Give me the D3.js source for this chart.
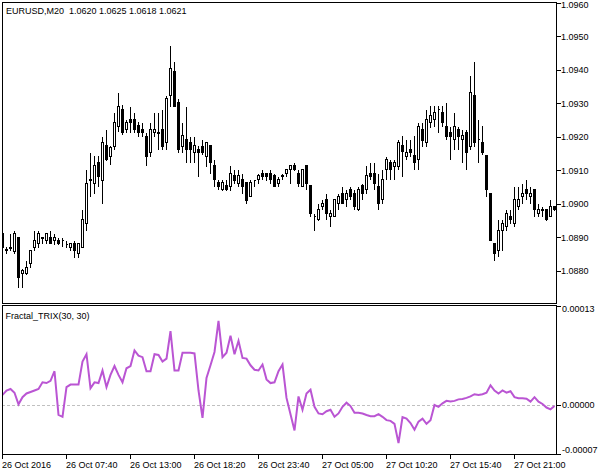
<!DOCTYPE html>
<html><head><meta charset="utf-8">
<script src="https://cdn.jsdelivr.net/npm/d3@7"></script>
<style>
html,body{margin:0;padding:0;background:#fff;}
svg{display:block;}
text{font-family:"Liberation Sans",Arial,sans-serif;font-size:9px;fill:#000;}
</style></head><body>
<svg id="c" width="604" height="475"></svg>
<script>
// ---------------- DATA ----------------
const symbolTitle = "EURUSD,M20  1.0620 1.0625 1.0618 1.0621";
const indicatorTitle = "Fractal_TRIX(30, 30)";
const startTime = new Date(2016, 9, 26, 2, 20);
const barMinutes = 20;

const open = [
1.08914,1.08863,1.08872,1.08858,1.08901,1.08793,1.08793,1.08823,1.08871,1.08883,
1.08901,1.08891,1.08901,1.08891,1.08893,1.08893,1.08881,1.08871,1.08883,1.08853,
1.08871,1.08943,1.09073,1.09063,1.09123,1.09071,1.09175,1.09143,1.09173,1.09233,
1.09283,1.09223,1.09253,1.09253,1.09235,1.09223,1.09203,1.09153,1.09213,1.09213,
1.09223,1.09183,1.09323,1.09395,1.09303,1.09173,1.09193,1.09183,1.09154,1.09163,
1.09172,1.09143,1.09175,1.09115,1.09065,1.09043,1.09055,1.09053,1.09085,1.09063,
1.09073,1.09065,1.09023,1.09071,1.09073,1.09093,1.09093,1.09093,1.09085,1.09063,
1.09085,1.09093,1.09103,1.09115,1.09093,1.09053,1.09115,1.09055,1.08963,1.08953,
1.08993,1.09013,1.08963,1.08963,1.09003,1.09033,1.09013,1.09043,1.09033,1.08983,
1.09055,1.09043,1.09093,1.09093,1.09053,1.09013,1.09103,1.09123,1.09113,1.09113,
1.09175,1.09143,1.09163,1.09145,1.09133,1.09223,1.09183,1.09243,1.09253,1.09283,
1.09273,1.09233,1.09213,1.09193,1.09223,1.09193,1.09213,1.09173,1.09325,1.09193,
1.09183,1.09145,1.09033,1.08883,1.08863,1.08923,1.08933,1.08963,1.08943,1.08993,
1.09023,1.09043,1.09023,1.09043,1.08973,1.08983,1.08983,1.08963,1.08993];

const high = [
1.08920,1.08873,1.08913,1.08923,1.08905,1.08809,1.08833,1.08863,1.08923,1.08923,
1.08902,1.08914,1.08923,1.08913,1.08901,1.08901,1.08891,1.08884,1.08893,1.08884,
1.08983,1.09103,1.09153,1.09145,1.09145,1.09203,1.09223,1.09175,1.09273,1.09333,
1.09298,1.09253,1.09293,1.09273,1.09248,1.09243,1.09213,1.09243,1.09273,1.09273,
1.09283,1.09325,1.09475,1.09425,1.09315,1.09243,1.09293,1.09203,1.09203,1.09175,
1.09193,1.09187,1.09178,1.09133,1.09073,1.09073,1.09073,1.09115,1.09103,1.09103,
1.09093,1.09065,1.09073,1.09071,1.09093,1.09103,1.09094,1.09103,1.09093,1.09083,
1.09093,1.09104,1.09116,1.09123,1.09103,1.09104,1.09116,1.09056,1.08973,1.09003,
1.09013,1.09033,1.08983,1.09014,1.09033,1.09053,1.09043,1.09053,1.09043,1.09053,
1.09063,1.09115,1.09123,1.09123,1.09093,1.09103,1.09143,1.09133,1.09133,1.09193,
1.09205,1.09193,1.09193,1.09205,1.09243,1.09243,1.09283,1.09295,1.09295,1.09295,
1.09295,1.09303,1.09233,1.09273,1.09233,1.09223,1.09223,1.09385,1.09425,1.09253,
1.09235,1.09148,1.09034,1.08884,1.08953,1.08953,1.08983,1.08983,1.09053,1.09053,
1.09063,1.09073,1.09053,1.09044,1.09003,1.08993,1.08984,1.09013,1.08994];

const low = [
1.08866,1.08853,1.08863,1.08853,1.08751,1.08751,1.08791,1.08811,1.08861,1.08871,
1.08883,1.08883,1.08882,1.08881,1.08881,1.08873,1.08871,1.08861,1.08841,1.08841,
1.08870,1.08921,1.09023,1.09033,1.09053,1.09003,1.09130,1.09118,1.09163,1.09218,
1.09208,1.09213,1.09213,1.09213,1.09203,1.09203,1.09115,1.09143,1.09203,1.09163,
1.09163,1.09163,1.09293,1.09292,1.09154,1.09154,1.09124,1.09124,1.09124,1.09083,
1.09148,1.09113,1.09093,1.09053,1.09043,1.09041,1.09041,1.09041,1.09063,1.09053,
1.09033,1.09003,1.09023,1.09053,1.09063,1.09073,1.09071,1.09063,1.09052,1.09053,
1.09073,1.09083,1.09063,1.09102,1.09053,1.09052,1.09043,1.08963,1.08923,1.08952,
1.08983,1.08953,1.08933,1.08962,1.08983,1.09002,1.08993,1.09013,1.08983,1.08982,
1.09013,1.09033,1.09073,1.09043,1.08983,1.09003,1.09073,1.09073,1.09073,1.09103,
1.09083,1.09133,1.09143,1.09103,1.09103,1.09173,1.09173,1.09228,1.09233,1.09213,
1.09233,1.09193,1.09133,1.09163,1.09163,1.09123,1.09103,1.09163,1.09173,1.09123,
1.09148,1.09023,1.08892,1.08833,1.08843,1.08863,1.08923,1.08943,1.08933,1.08983,
1.09003,1.09013,1.09003,1.08963,1.08963,1.08963,1.08952,1.08962,1.08982];

const close = [
1.08872,1.08864,1.08869,1.08913,1.08780,1.08803,1.08811,1.08863,1.08893,1.08913,
1.08899,1.08913,1.08883,1.08901,1.08883,1.08892,1.08880,1.08883,1.08863,1.08883,
1.08953,1.09063,1.09072,1.09115,1.09083,1.09183,1.09133,1.09169,1.09243,1.09293,
1.09213,1.09243,1.09243,1.09223,1.09213,1.09213,1.09143,1.09223,1.09223,1.09212,
1.09173,1.09315,1.09405,1.09293,1.09163,1.09205,1.09163,1.09163,1.09175,1.09154,
1.09153,1.09183,1.09123,1.09073,1.09053,1.09065,1.09043,1.09093,1.09071,1.09085,
1.09053,1.09011,1.09065,1.09070,1.09085,1.09083,1.09083,1.09073,1.09053,1.09073,
1.09084,1.09103,1.09115,1.09103,1.09063,1.09103,1.09063,1.08973,1.08962,1.08983,
1.09003,1.08973,1.08973,1.09013,1.09023,1.09003,1.09033,1.09023,1.08993,1.09043,
1.09033,1.09085,1.09083,1.09063,1.09003,1.09073,1.09133,1.09103,1.09123,1.09183,
1.09157,1.09153,1.09153,1.09123,1.09233,1.09191,1.09253,1.09265,1.09273,1.09282,
1.09243,1.09203,1.09203,1.09233,1.09203,1.09205,1.09154,1.09333,1.09183,1.09192,
1.09153,1.09043,1.08893,1.08853,1.08923,1.08943,1.08973,1.08953,1.09013,1.09013,
1.09033,1.09033,1.09033,1.08983,1.08983,1.08982,1.08953,1.08993,1.08983];

// Fractal_TRIX values, in units of 0.00001
const trixE5 = [
1.4,2.0,2.2,1.7,0.14,1.1,1.6,1.8,2.0,2.2,
3.1,3.0,3.3,4.6,-1.3,-1.55,2.45,2.8,2.8,2.8,
5.9,6.9,2.3,3.1,3.0,4.7,2.45,4.1,5.3,4.1,
3.1,5.0,5.3,7.4,6.7,6.5,4.6,4.6,6.9,6.8,
5.9,6.3,10.0,4.7,4.7,7.1,7.1,7.1,7.0,2.0,
-1.7,3.7,5.4,7.2,11.4,6.5,7.1,9.4,6.9,8.7,
6.4,6.3,5.4,4.8,4.7,5.5,3.5,3.0,3.1,4.6,
5.5,1.0,-1.2,-3.4,1.2,-0.6,1.6,2.1,-0.2,-1.1,
-1.2,-0.8,-0.6,-1.55,-1.1,-0.2,0.35,-0.1,-1.0,-1.0,
-1.1,-1.3,-1.46,-1.46,-1.2,-1.55,-2.0,-2.1,-2.5,-5.1,
-1.6,-1.8,-2.4,-3.3,-2.2,-1.8,-2.5,-2.0,0.04,-0.2,
0.27,0.6,0.5,0.6,0.8,0.86,1.0,1.2,1.5,1.4,
1.5,1.7,2.7,2.0,1.6,2.0,1.7,1.9,1.1,0.95,
0.95,0.9,0.5,1.1,0.5,0.18,-0.3,-0.55,-0.1];

const priceRange = [1.087036, 1.096021];
const priceTicks = [1.0880,1.0890,1.0900,1.0910,1.0920,1.0930,1.0940,1.0950,1.0960];
const trixRange = [-0.0000657, 0.000134];
const trixTicks = [0.000134, 0, -0.0000657];
const timeTickBars = [0,16,32,48,64,80,96,112,128];
const timeTickLabels = ["26 Oct 2016","26 Oct 07:40","26 Oct 13:00","26 Oct 18:20","26 Oct 23:40",
                        "27 Oct 05:00","27 Oct 10:20","27 Oct 15:40","27 Oct 21:00"];

// ---------------- LAYOUT ----------------
const L = 2, R = 556, mainTop = 2, mainBot = 303, subTop = 305, subBot = 454;
const svg = d3.select("#c");
svg.append("rect").attr("width",604).attr("height",475).attr("fill","#fff");

const times = open.map((_, i) => new Date(startTime.getTime() + i * barMinutes * 60000));
const x = d3.scaleTime().domain([times[0], times[times.length - 1]]).range([2.5, 554.5]);
const y = d3.scaleLinear().domain(priceRange).range([mainBot, mainTop]);
const ys = d3.scaleLinear().domain(trixRange).range([subBot, subTop + 1]);

const defs = svg.append("defs");
defs.append("clipPath").attr("id","clipMain").append("rect")
  .attr("x", L + 1).attr("y", mainTop + 1).attr("width", R - L - 1).attr("height", mainBot - mainTop - 1);
defs.append("clipPath").attr("id","clipSub").append("rect")
  .attr("x", L + 1).attr("y", subTop + 1).attr("width", R - L - 1).attr("height", subBot - subTop - 1);

// ---------- candles ----------
const bars = open.map((o, i) => ({t: times[i], o, h: high[i], l: low[i], c: close[i]}));
const gC = svg.append("g").attr("clip-path","url(#clipMain)").attr("shape-rendering","crispEdges");
const py = v => Math.round(y(v)) + 0.5;
gC.selectAll("line.wick").data(bars).join("line").attr("class","wick")
  .attr("x1", d => x(d.t)).attr("x2", d => x(d.t))
  .attr("y1", d => py(d.h)).attr("y2", d => py(d.l) + 0.5)
  .attr("stroke","#000").attr("stroke-width",1);
gC.selectAll("path.body").data(bars).join("path").attr("class","body")
  .attr("d", d => {
    const cx = x(d.t), t = py(Math.max(d.o, d.c)), b = py(Math.min(d.o, d.c));
    return `M${cx-1},${t}H${cx+1}V${b}H${cx-1}Z`;
  })
  .attr("fill", d => d.c >= d.o ? "#fff" : "#000")
  .attr("stroke","#000").attr("stroke-width",1);

// ---------- TRIX ----------
const gS = svg.append("g").attr("clip-path","url(#clipSub)");
gS.append("line").attr("x1", L).attr("x2", R).attr("y1", Math.round(ys(0)) + 0.5).attr("y2", Math.round(ys(0)) + 0.5)
  .attr("stroke","#c0c0c0").attr("stroke-dasharray","3,2").attr("stroke-width",1);
const trix = trixE5.map(v => v * 1e-5);
gS.append("path").datum(trix)
  .attr("d", d3.line().x((v, i) => x(times[i])).y(v => ys(v)))
  .attr("fill","none").attr("stroke","#BA55D3").attr("stroke-width",2)
  .attr("stroke-linejoin","miter");

// ---------- frames ----------
svg.append("rect").attr("x", L + 0.5).attr("y", mainTop + 0.5).attr("width", R - L).attr("height", mainBot - mainTop)
  .attr("fill","none").attr("stroke","#000").attr("shape-rendering","crispEdges");
svg.append("rect").attr("x", L + 0.5).attr("y", subTop + 0.5).attr("width", R - L).attr("height", subBot - subTop)
  .attr("fill","none").attr("stroke","#000").attr("shape-rendering","crispEdges");

// ---------- price axis ----------
const gY = svg.append("g").attr("transform", `translate(${R + 1},0)`)
  .call(d3.axisRight(y).tickValues(priceTicks).tickSize(4).tickPadding(0).tickFormat(d3.format(".4f")));
gY.select(".domain").remove();
gY.selectAll("line").attr("shape-rendering","crispEdges");
// keep the top label fully inside the picture
gY.selectAll(".tick text").attr("y", function() {
  const t = d3.select(this.parentNode).attr("transform");
  const ty = +t.match(/,\s*([-\d.]+)\)/)[1];
  return Math.max(0, 5.5 - ty);
});

// ---------- TRIX axis ----------
const gT = svg.append("g").attr("transform", `translate(${R + 1},0)`);
trixTicks.forEach(v => {
  const ty = Math.round(ys(v)) + 0.5;
  gT.append("line").attr("x1",0).attr("x2",4).attr("y1",ty).attr("y2",ty)
    .attr("stroke","#000").attr("shape-rendering","crispEdges");
  const ly = Math.min(Math.max(ty, subTop + 4.5), subBot - 3.5);
  gT.append("text").attr("x",5).attr("y",ly).attr("dy","0.32em").text(v.toFixed(5));
});

// ---------- time axis ----------
const gX = svg.append("g");
timeTickBars.forEach((b, k) => {
  const tx = x(times[b]);
  gX.append("line").attr("x1",tx).attr("x2",tx).attr("y1",subBot + 1).attr("y2",subBot + 5)
    .attr("stroke","#000").attr("shape-rendering","crispEdges");
  gX.append("text").attr("x", tx - 0.5).attr("y", 468).text(timeTickLabels[k]);
});

// ---------- titles ----------
svg.append("text").attr("x",6).attr("y",13.5).style("white-space","pre").text(symbolTitle);
svg.append("text").attr("x",5.5).attr("y",318.5).style("white-space","pre").text(indicatorTitle);
</script>
</body></html>
